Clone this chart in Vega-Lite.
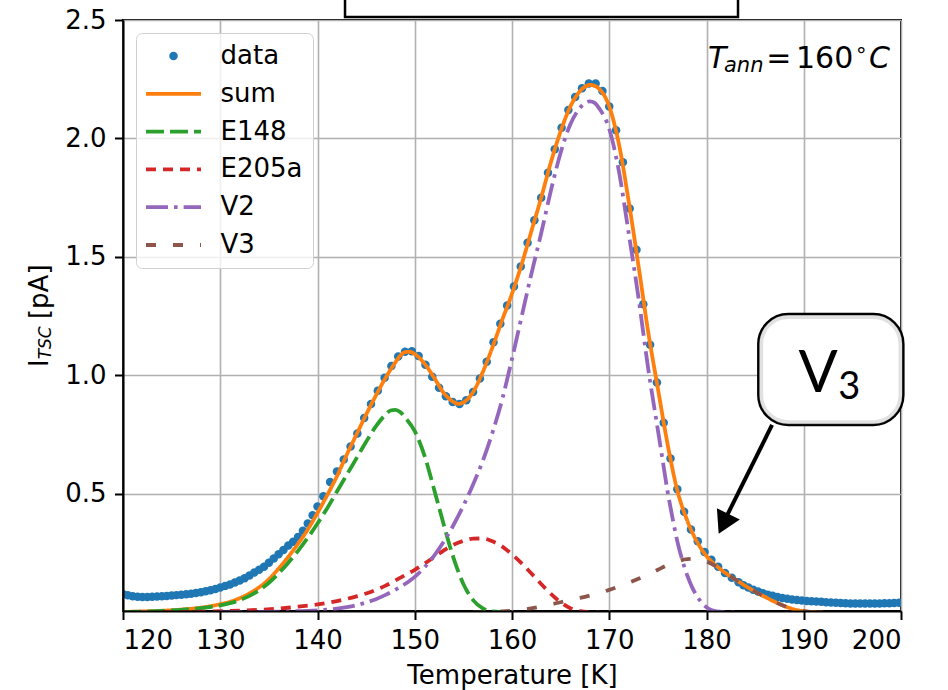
{
  "$schema": "https://vega.github.io/schema/vega-lite/v6.json",
  "width": 778,
  "height": 591,
  "autosize": {"type": "none"},
  "padding": {"left": 123, "top": 20, "right": 47, "bottom": 79},
  "background": "white",
  "config": {
    "font": "DejaVu Sans",
    "view": {"stroke": "black", "strokeWidth": 2},
    "axis": {
      "labelFont": "DejaVu Sans",
      "labelFontSize": 26,
      "labelColor": "black",
      "titleFont": "DejaVu Sans",
      "titleFontSize": 26,
      "titleFontWeight": "normal",
      "titleColor": "black",
      "tickColor": "black",
      "tickWidth": 2,
      "tickSize": 8.5,
      "domainColor": "black",
      "domainWidth": 2,
      "gridColor": "#b0b0b0",
      "gridWidth": 1.6
    }
  },
  "datasets": {
    "meas": [
      {"T": 120.0, "I": 0.078}, {"T": 120.5, "I": 0.072}, {"T": 121.0, "I": 0.068}, {"T": 121.5, "I": 0.066},
      {"T": 122.0, "I": 0.065}, {"T": 122.5, "I": 0.065}, {"T": 123.0, "I": 0.066}, {"T": 123.5, "I": 0.067},
      {"T": 124.0, "I": 0.068}, {"T": 124.5, "I": 0.069}, {"T": 125.0, "I": 0.071}, {"T": 125.5, "I": 0.073},
      {"T": 126.0, "I": 0.075}, {"T": 126.5, "I": 0.077}, {"T": 127.0, "I": 0.079}, {"T": 127.5, "I": 0.082},
      {"T": 128.0, "I": 0.085}, {"T": 128.5, "I": 0.089}, {"T": 129.0, "I": 0.094}, {"T": 129.5, "I": 0.099},
      {"T": 130.0, "I": 0.105}, {"T": 130.5, "I": 0.112}, {"T": 131.0, "I": 0.118}, {"T": 131.5, "I": 0.126},
      {"T": 132.0, "I": 0.135}, {"T": 132.5, "I": 0.144}, {"T": 133.0, "I": 0.156}, {"T": 133.5, "I": 0.168},
      {"T": 134.0, "I": 0.18}, {"T": 134.5, "I": 0.193}, {"T": 135.0, "I": 0.21}, {"T": 135.5, "I": 0.228},
      {"T": 136.0, "I": 0.245}, {"T": 136.5, "I": 0.263}, {"T": 137.0, "I": 0.282}, {"T": 137.5, "I": 0.298},
      {"T": 138.0, "I": 0.318}, {"T": 138.5, "I": 0.345}, {"T": 139.0, "I": 0.375}, {"T": 139.5, "I": 0.41},
      {"T": 140.0, "I": 0.447}, {"T": 140.6, "I": 0.49}, {"T": 141.3, "I": 0.55}, {"T": 142.0, "I": 0.595},
      {"T": 142.7, "I": 0.645}, {"T": 143.4, "I": 0.7}, {"T": 144.1, "I": 0.755}, {"T": 144.8, "I": 0.82},
      {"T": 145.5, "I": 0.88}, {"T": 146.2, "I": 0.935}, {"T": 146.9, "I": 0.99}, {"T": 147.6, "I": 1.04},
      {"T": 148.3, "I": 1.08}, {"T": 149.0, "I": 1.1}, {"T": 149.7, "I": 1.102}, {"T": 150.4, "I": 1.082},
      {"T": 151.1, "I": 1.045}, {"T": 151.8, "I": 0.995}, {"T": 152.5, "I": 0.948}, {"T": 153.2, "I": 0.912},
      {"T": 153.9, "I": 0.888}, {"T": 154.6, "I": 0.88}, {"T": 155.3, "I": 0.895}, {"T": 156.0, "I": 0.93},
      {"T": 156.7, "I": 0.987}, {"T": 157.4, "I": 1.058}, {"T": 158.1, "I": 1.14}, {"T": 158.8, "I": 1.218},
      {"T": 159.5, "I": 1.295}, {"T": 160.2, "I": 1.375}, {"T": 160.9, "I": 1.46}, {"T": 161.6, "I": 1.56},
      {"T": 162.3, "I": 1.655}, {"T": 163.0, "I": 1.75}, {"T": 163.7, "I": 1.855}, {"T": 164.4, "I": 1.955},
      {"T": 165.1, "I": 2.045}, {"T": 165.8, "I": 2.12}, {"T": 166.5, "I": 2.175}, {"T": 167.2, "I": 2.212},
      {"T": 167.9, "I": 2.232}, {"T": 168.6, "I": 2.232}, {"T": 169.3, "I": 2.2}, {"T": 170.0, "I": 2.135},
      {"T": 170.7, "I": 2.035}, {"T": 171.4, "I": 1.9}, {"T": 172.1, "I": 1.705}, {"T": 172.8, "I": 1.53},
      {"T": 173.5, "I": 1.3}, {"T": 174.2, "I": 1.13}, {"T": 174.9, "I": 0.97}, {"T": 175.6, "I": 0.8},
      {"T": 176.3, "I": 0.65}, {"T": 177.0, "I": 0.52}, {"T": 177.7, "I": 0.425}, {"T": 178.4, "I": 0.35},
      {"T": 179.1, "I": 0.3}, {"T": 179.8, "I": 0.255}, {"T": 180.5, "I": 0.222}, {"T": 181.2, "I": 0.193},
      {"T": 181.9, "I": 0.166}, {"T": 182.6, "I": 0.146}, {"T": 183.3, "I": 0.127}, {"T": 183.8, "I": 0.115},
      {"T": 184.3, "I": 0.105}, {"T": 184.8, "I": 0.096}, {"T": 185.3, "I": 0.088}, {"T": 185.8, "I": 0.081},
      {"T": 186.3, "I": 0.075}, {"T": 186.8, "I": 0.07}, {"T": 187.3, "I": 0.065}, {"T": 187.8, "I": 0.061},
      {"T": 188.3, "I": 0.058}, {"T": 188.8, "I": 0.055}, {"T": 189.3, "I": 0.052}, {"T": 189.8, "I": 0.05},
      {"T": 190.3, "I": 0.048}, {"T": 190.8, "I": 0.047}, {"T": 191.3, "I": 0.046}, {"T": 191.8, "I": 0.045},
      {"T": 192.3, "I": 0.043}, {"T": 192.8, "I": 0.042}, {"T": 193.3, "I": 0.041}, {"T": 193.8, "I": 0.04},
      {"T": 194.3, "I": 0.039}, {"T": 194.8, "I": 0.038}, {"T": 195.3, "I": 0.038}, {"T": 195.8, "I": 0.038},
      {"T": 196.3, "I": 0.038}, {"T": 196.8, "I": 0.038}, {"T": 197.3, "I": 0.038}, {"T": 197.8, "I": 0.038},
      {"T": 198.3, "I": 0.039}, {"T": 198.8, "I": 0.039}, {"T": 199.3, "I": 0.04}, {"T": 199.8, "I": 0.041}
    ],
    "fit": [
      {"series": "sum", "T": 120, "I": 0.002}, {"series": "sum", "T": 122, "I": 0.004}, {"series": "sum", "T": 124, "I": 0.007},
      {"series": "sum", "T": 126, "I": 0.012}, {"series": "sum", "T": 128, "I": 0.02}, {"series": "sum", "T": 130, "I": 0.035},
      {"series": "sum", "T": 131, "I": 0.045}, {"series": "sum", "T": 132, "I": 0.06}, {"series": "sum", "T": 133, "I": 0.08},
      {"series": "sum", "T": 134, "I": 0.106}, {"series": "sum", "T": 135, "I": 0.14}, {"series": "sum", "T": 136, "I": 0.185},
      {"series": "sum", "T": 137, "I": 0.235}, {"series": "sum", "T": 138, "I": 0.29}, {"series": "sum", "T": 139, "I": 0.35},
      {"series": "sum", "T": 140, "I": 0.42}, {"series": "sum", "T": 141, "I": 0.495}, {"series": "sum", "T": 142, "I": 0.575},
      {"series": "sum", "T": 143, "I": 0.665}, {"series": "sum", "T": 144, "I": 0.75}, {"series": "sum", "T": 145, "I": 0.835},
      {"series": "sum", "T": 146, "I": 0.915}, {"series": "sum", "T": 147, "I": 0.99}, {"series": "sum", "T": 148, "I": 1.055},
      {"series": "sum", "T": 148.5, "I": 1.083}, {"series": "sum", "T": 149, "I": 1.098}, {"series": "sum", "T": 149.5, "I": 1.1},
      {"series": "sum", "T": 150, "I": 1.09}, {"series": "sum", "T": 151, "I": 1.05}, {"series": "sum", "T": 152, "I": 0.99},
      {"series": "sum", "T": 153, "I": 0.925}, {"series": "sum", "T": 154, "I": 0.888}, {"series": "sum", "T": 154.5, "I": 0.88},
      {"series": "sum", "T": 155, "I": 0.886}, {"series": "sum", "T": 156, "I": 0.93}, {"series": "sum", "T": 157, "I": 1.015},
      {"series": "sum", "T": 158, "I": 1.12}, {"series": "sum", "T": 159, "I": 1.235}, {"series": "sum", "T": 160, "I": 1.345},
      {"series": "sum", "T": 161, "I": 1.47}, {"series": "sum", "T": 162, "I": 1.61}, {"series": "sum", "T": 163, "I": 1.75},
      {"series": "sum", "T": 164, "I": 1.9}, {"series": "sum", "T": 165, "I": 2.03}, {"series": "sum", "T": 166, "I": 2.135},
      {"series": "sum", "T": 167, "I": 2.2}, {"series": "sum", "T": 167.5, "I": 2.218}, {"series": "sum", "T": 168, "I": 2.226},
      {"series": "sum", "T": 168.5, "I": 2.222}, {"series": "sum", "T": 169, "I": 2.208}, {"series": "sum", "T": 170, "I": 2.135},
      {"series": "sum", "T": 171, "I": 1.975}, {"series": "sum", "T": 172, "I": 1.735}, {"series": "sum", "T": 173, "I": 1.465},
      {"series": "sum", "T": 174, "I": 1.185}, {"series": "sum", "T": 175, "I": 0.945}, {"series": "sum", "T": 176, "I": 0.71},
      {"series": "sum", "T": 177, "I": 0.515}, {"series": "sum", "T": 178, "I": 0.39}, {"series": "sum", "T": 179, "I": 0.3},
      {"series": "sum", "T": 180, "I": 0.238}, {"series": "sum", "T": 181, "I": 0.197}, {"series": "sum", "T": 182, "I": 0.165},
      {"series": "sum", "T": 183, "I": 0.138}, {"series": "sum", "T": 184, "I": 0.112}, {"series": "sum", "T": 185, "I": 0.088},
      {"series": "sum", "T": 186, "I": 0.066}, {"series": "sum", "T": 187, "I": 0.045}, {"series": "sum", "T": 188, "I": 0.027},
      {"series": "sum", "T": 189, "I": 0.013}, {"series": "sum", "T": 190, "I": 0.005}, {"series": "sum", "T": 191, "I": 0.001},
      {"series": "sum", "T": 192, "I": 0.0},

      {"series": "E148", "T": 120, "I": 0.001}, {"series": "E148", "T": 122, "I": 0.003}, {"series": "E148", "T": 124, "I": 0.006},
      {"series": "E148", "T": 126, "I": 0.011}, {"series": "E148", "T": 128, "I": 0.018}, {"series": "E148", "T": 130, "I": 0.03},
      {"series": "E148", "T": 131, "I": 0.039}, {"series": "E148", "T": 132, "I": 0.052}, {"series": "E148", "T": 133, "I": 0.07},
      {"series": "E148", "T": 134, "I": 0.094}, {"series": "E148", "T": 135, "I": 0.125}, {"series": "E148", "T": 136, "I": 0.165},
      {"series": "E148", "T": 137, "I": 0.21}, {"series": "E148", "T": 138, "I": 0.26}, {"series": "E148", "T": 139, "I": 0.315},
      {"series": "E148", "T": 140, "I": 0.375}, {"series": "E148", "T": 141, "I": 0.44}, {"series": "E148", "T": 142, "I": 0.51},
      {"series": "E148", "T": 143, "I": 0.58}, {"series": "E148", "T": 144, "I": 0.65}, {"series": "E148", "T": 145, "I": 0.72},
      {"series": "E148", "T": 146, "I": 0.785}, {"series": "E148", "T": 147, "I": 0.835}, {"series": "E148", "T": 147.5, "I": 0.852},
      {"series": "E148", "T": 148, "I": 0.855}, {"series": "E148", "T": 148.5, "I": 0.846}, {"series": "E148", "T": 149, "I": 0.823},
      {"series": "E148", "T": 150, "I": 0.765}, {"series": "E148", "T": 151, "I": 0.662}, {"series": "E148", "T": 152, "I": 0.518},
      {"series": "E148", "T": 153, "I": 0.368}, {"series": "E148", "T": 154, "I": 0.228}, {"series": "E148", "T": 155, "I": 0.12},
      {"series": "E148", "T": 156, "I": 0.052}, {"series": "E148", "T": 157, "I": 0.017}, {"series": "E148", "T": 158, "I": 0.004},
      {"series": "E148", "T": 159, "I": 0.001}, {"series": "E148", "T": 160, "I": 0.0},

      {"series": "E205a", "T": 124, "I": 0.001}, {"series": "E205a", "T": 128, "I": 0.003}, {"series": "E205a", "T": 131, "I": 0.006},
      {"series": "E205a", "T": 134, "I": 0.011}, {"series": "E205a", "T": 136, "I": 0.016}, {"series": "E205a", "T": 138, "I": 0.024},
      {"series": "E205a", "T": 140, "I": 0.034}, {"series": "E205a", "T": 142, "I": 0.048}, {"series": "E205a", "T": 144, "I": 0.068},
      {"series": "E205a", "T": 145, "I": 0.08}, {"series": "E205a", "T": 146, "I": 0.095}, {"series": "E205a", "T": 147, "I": 0.113},
      {"series": "E205a", "T": 148, "I": 0.135}, {"series": "E205a", "T": 149, "I": 0.157}, {"series": "E205a", "T": 150, "I": 0.18},
      {"series": "E205a", "T": 151, "I": 0.206}, {"series": "E205a", "T": 152, "I": 0.234}, {"series": "E205a", "T": 153, "I": 0.262},
      {"series": "E205a", "T": 154, "I": 0.286}, {"series": "E205a", "T": 155, "I": 0.302}, {"series": "E205a", "T": 156, "I": 0.311},
      {"series": "E205a", "T": 157, "I": 0.312}, {"series": "E205a", "T": 158, "I": 0.3}, {"series": "E205a", "T": 159, "I": 0.278},
      {"series": "E205a", "T": 160, "I": 0.245}, {"series": "E205a", "T": 161, "I": 0.207}, {"series": "E205a", "T": 162, "I": 0.164},
      {"series": "E205a", "T": 163, "I": 0.12}, {"series": "E205a", "T": 164, "I": 0.078}, {"series": "E205a", "T": 165, "I": 0.043},
      {"series": "E205a", "T": 166, "I": 0.018}, {"series": "E205a", "T": 167, "I": 0.005}, {"series": "E205a", "T": 168, "I": 0.001},
      {"series": "E205a", "T": 169, "I": 0.0},

      {"series": "V2", "T": 130, "I": 0.001}, {"series": "V2", "T": 134, "I": 0.002}, {"series": "V2", "T": 137, "I": 0.004},
      {"series": "V2", "T": 140, "I": 0.009}, {"series": "V2", "T": 142, "I": 0.016}, {"series": "V2", "T": 143, "I": 0.022},
      {"series": "V2", "T": 144, "I": 0.03}, {"series": "V2", "T": 145, "I": 0.042}, {"series": "V2", "T": 146, "I": 0.056},
      {"series": "V2", "T": 147, "I": 0.074}, {"series": "V2", "T": 148, "I": 0.095}, {"series": "V2", "T": 149, "I": 0.12},
      {"series": "V2", "T": 150, "I": 0.15}, {"series": "V2", "T": 151, "I": 0.19}, {"series": "V2", "T": 152, "I": 0.24},
      {"series": "V2", "T": 153, "I": 0.3}, {"series": "V2", "T": 154, "I": 0.37}, {"series": "V2", "T": 155, "I": 0.45},
      {"series": "V2", "T": 156, "I": 0.54}, {"series": "V2", "T": 157, "I": 0.64}, {"series": "V2", "T": 158, "I": 0.76},
      {"series": "V2", "T": 159, "I": 0.9}, {"series": "V2", "T": 160, "I": 1.07}, {"series": "V2", "T": 161, "I": 1.25},
      {"series": "V2", "T": 162, "I": 1.43}, {"series": "V2", "T": 163, "I": 1.6}, {"series": "V2", "T": 164, "I": 1.78},
      {"series": "V2", "T": 165, "I": 1.94}, {"series": "V2", "T": 166, "I": 2.06}, {"series": "V2", "T": 167, "I": 2.13},
      {"series": "V2", "T": 167.5, "I": 2.15}, {"series": "V2", "T": 168, "I": 2.157}, {"series": "V2", "T": 168.5, "I": 2.15},
      {"series": "V2", "T": 169, "I": 2.125}, {"series": "V2", "T": 170, "I": 2.04}, {"series": "V2", "T": 171, "I": 1.86},
      {"series": "V2", "T": 172, "I": 1.6}, {"series": "V2", "T": 173, "I": 1.33}, {"series": "V2", "T": 174, "I": 1.03},
      {"series": "V2", "T": 175, "I": 0.77}, {"series": "V2", "T": 175.5, "I": 0.64}, {"series": "V2", "T": 176, "I": 0.51},
      {"series": "V2", "T": 176.5, "I": 0.4}, {"series": "V2", "T": 177, "I": 0.3}, {"series": "V2", "T": 177.5, "I": 0.222},
      {"series": "V2", "T": 178, "I": 0.158}, {"series": "V2", "T": 178.5, "I": 0.108}, {"series": "V2", "T": 179, "I": 0.07},
      {"series": "V2", "T": 179.5, "I": 0.042}, {"series": "V2", "T": 180, "I": 0.022}, {"series": "V2", "T": 180.5, "I": 0.01},
      {"series": "V2", "T": 181, "I": 0.004}, {"series": "V2", "T": 182, "I": 0.001}, {"series": "V2", "T": 183, "I": 0.0},

      {"series": "V3", "T": 156, "I": 0.0}, {"series": "V3", "T": 157, "I": 0.001}, {"series": "V3", "T": 158, "I": 0.002},
      {"series": "V3", "T": 159, "I": 0.004}, {"series": "V3", "T": 160, "I": 0.007}, {"series": "V3", "T": 161, "I": 0.011},
      {"series": "V3", "T": 162, "I": 0.017}, {"series": "V3", "T": 163, "I": 0.025}, {"series": "V3", "T": 164, "I": 0.034},
      {"series": "V3", "T": 165, "I": 0.043}, {"series": "V3", "T": 166, "I": 0.052}, {"series": "V3", "T": 167, "I": 0.061},
      {"series": "V3", "T": 168, "I": 0.071}, {"series": "V3", "T": 169, "I": 0.082}, {"series": "V3", "T": 170, "I": 0.095},
      {"series": "V3", "T": 171, "I": 0.11}, {"series": "V3", "T": 172, "I": 0.125}, {"series": "V3", "T": 173, "I": 0.142},
      {"series": "V3", "T": 174, "I": 0.16}, {"series": "V3", "T": 175, "I": 0.18}, {"series": "V3", "T": 176, "I": 0.2},
      {"series": "V3", "T": 177, "I": 0.215}, {"series": "V3", "T": 178, "I": 0.225}, {"series": "V3", "T": 179, "I": 0.226},
      {"series": "V3", "T": 180, "I": 0.215}, {"series": "V3", "T": 181, "I": 0.194}, {"series": "V3", "T": 182, "I": 0.165},
      {"series": "V3", "T": 183, "I": 0.138}, {"series": "V3", "T": 184, "I": 0.112}, {"series": "V3", "T": 185, "I": 0.088},
      {"series": "V3", "T": 186, "I": 0.066}, {"series": "V3", "T": 187, "I": 0.045}, {"series": "V3", "T": 188, "I": 0.027},
      {"series": "V3", "T": 189, "I": 0.013}, {"series": "V3", "T": 190, "I": 0.005}, {"series": "V3", "T": 191, "I": 0.001},
      {"series": "V3", "T": 192, "I": 0.0}
    ]
  },
  "layer": [
    {
      "data": {"name": "meas"},
      "mark": {"type": "point", "filled": true, "size": 72, "opacity": 1, "color": "#1f77b4", "clip": true},
      "encoding": {
        "x": {"field": "T", "type": "quantitative",
              "scale": {"domain": [120, 200], "nice": false, "zero": false},
              "axis": {"orient": "bottom", "grid": true, "domain": false, "ticks": false, "labels": false, "title": null,
                       "values": [120, 130, 140, 150, 160, 170, 180, 190, 200], "zindex": 0}},
        "y": {"field": "I", "type": "quantitative",
              "scale": {"domain": [0.006, 2.5], "nice": false, "zero": false},
              "axis": {"orient": "left", "grid": true, "domain": false, "ticks": false, "labels": false, "title": null,
                       "values": [0.5, 1.0, 1.5, 2.0, 2.5], "zindex": 0}}
      }
    },
    {
      "data": {"name": "fit"},
      "transform": [{"filter": "datum.series === 'sum'"}],
      "mark": {"type": "line", "strokeWidth": 3.8, "interpolate": "monotone", "clip": true},
      "encoding": {
        "x": {"field": "T", "type": "quantitative",
              "scale": {"domain": [120, 200], "nice": false, "zero": false},
              "axis": {"orient": "bottom", "grid": false, "values": [120, 130, 140, 150, 160, 170, 180, 190, 200],
                       "format": "d", "labelPadding": 8, "title": "Temperature [K]", "titlePadding": 8.5, "zindex": 1}},
        "y": {"field": "I", "type": "quantitative",
              "scale": {"domain": [0.006, 2.5], "nice": false, "zero": false},
              "axis": {"orient": "left", "grid": false, "values": [0.5, 1.0, 1.5, 2.0, 2.5],
                       "format": ".1f", "labelPadding": 8.5, "title": null, "zindex": 1}},
        "color": {"field": "series", "type": "nominal",
                  "scale": {"domain": ["data", "sum", "E148", "E205a", "V2", "V3"],
                            "range": ["#1f77b4", "#ff7f0e", "#2ca02c", "#d62728", "#9467bd", "#8c564b"]},
                  "legend": {
                    "title": null, "orient": "top-left", "offset": 13,
                    "labelFont": "DejaVu Sans", "labelFontSize": 26, "labelColor": "black", "labelOffset": 34,
                    "symbolType": "stroke", "symbolSize": 3025, "symbolStrokeWidth": 3.8, "symbolOffset": 14.5,
                    "rowPadding": 11.8, "padding": 10,
                    "fillColor": "rgba(255,255,255,0.8)", "strokeColor": "#d0d0d0", "cornerRadius": 6,
                    "encode": {
                      "symbols": {"update": {
                        "shape": {"signal": "datum.value === 'data' ? 'circle' : 'stroke'"},
                        "size": {"signal": "datum.value === 'data' ? 72 : 3025"},
                        "fill": {"signal": "datum.value === 'data' ? '#1f77b4' : 'transparent'"},
                        "stroke": {"scale": "color", "field": "value"},
                        "strokeWidth": {"signal": "datum.value === 'data' ? 0 : 3.8"},
                        "strokeDash": {"scale": "strokeDash", "field": "value"},
                        "opacity": {"value": 1}
                      }}
                    }
                  }},
        "strokeDash": {"field": "series", "type": "nominal",
                       "scale": {"domain": ["data", "sum", "E148", "E205a", "V2", "V3"],
                                 "range": [[1, 0], [1, 0], [18, 6], [10, 7], [22, 6, 3.6, 6], [10, 17]]},
                       "legend": null}
      }
    },
    {
      "data": {"name": "fit"},
      "transform": [{"filter": "datum.series === 'E148'"}],
      "mark": {"type": "line", "strokeWidth": 3.8, "interpolate": "monotone", "clip": true},
      "encoding": {
        "x": {"field": "T", "type": "quantitative", "scale": {"domain": [120, 200], "nice": false, "zero": false}, "axis": null},
        "y": {"field": "I", "type": "quantitative", "scale": {"domain": [0.006, 2.5], "nice": false, "zero": false}, "axis": null},
        "color": {"field": "series", "type": "nominal", "scale": {"domain": ["data", "sum", "E148", "E205a", "V2", "V3"]}},
        "strokeDash": {"field": "series", "type": "nominal", "scale": {"domain": ["data", "sum", "E148", "E205a", "V2", "V3"]}, "legend": null}
      }
    },
    {
      "data": {"name": "fit"},
      "transform": [{"filter": "datum.series === 'E205a'"}],
      "mark": {"type": "line", "strokeWidth": 3.8, "interpolate": "monotone", "clip": true},
      "encoding": {
        "x": {"field": "T", "type": "quantitative", "scale": {"domain": [120, 200], "nice": false, "zero": false}, "axis": null},
        "y": {"field": "I", "type": "quantitative", "scale": {"domain": [0.006, 2.5], "nice": false, "zero": false}, "axis": null},
        "color": {"field": "series", "type": "nominal", "scale": {"domain": ["data", "sum", "E148", "E205a", "V2", "V3"]}},
        "strokeDash": {"field": "series", "type": "nominal", "scale": {"domain": ["data", "sum", "E148", "E205a", "V2", "V3"]}, "legend": null}
      }
    },
    {
      "data": {"name": "fit"},
      "transform": [{"filter": "datum.series === 'V2'"}],
      "mark": {"type": "line", "strokeWidth": 3.8, "interpolate": "monotone", "clip": true},
      "encoding": {
        "x": {"field": "T", "type": "quantitative", "scale": {"domain": [120, 200], "nice": false, "zero": false}, "axis": null},
        "y": {"field": "I", "type": "quantitative", "scale": {"domain": [0.006, 2.5], "nice": false, "zero": false}, "axis": null},
        "color": {"field": "series", "type": "nominal", "scale": {"domain": ["data", "sum", "E148", "E205a", "V2", "V3"]}},
        "strokeDash": {"field": "series", "type": "nominal", "scale": {"domain": ["data", "sum", "E148", "E205a", "V2", "V3"]}, "legend": null}
      }
    },
    {
      "data": {"name": "fit"},
      "transform": [{"filter": "datum.series === 'V3'"}],
      "mark": {"type": "line", "strokeWidth": 3.8, "interpolate": "monotone", "clip": true},
      "encoding": {
        "x": {"field": "T", "type": "quantitative", "scale": {"domain": [120, 200], "nice": false, "zero": false}, "axis": null},
        "y": {"field": "I", "type": "quantitative", "scale": {"domain": [0.006, 2.5], "nice": false, "zero": false}, "axis": null},
        "color": {"field": "series", "type": "nominal", "scale": {"domain": ["data", "sum", "E148", "E205a", "V2", "V3"]}},
        "strokeDash": {"field": "series", "type": "nominal", "scale": {"domain": ["data", "sum", "E148", "E205a", "V2", "V3"]}, "legend": null}
      }
    },
    {
      "data": {"values": [{}]},
      "mark": {"type": "rect", "fill": "white", "stroke": "black", "strokeWidth": 2.5, "clip": false},
      "encoding": {
        "x": {"datum": 142.83, "axis": null}, "x2": {"datum": 183.24},
        "y": {"datum": 2.513, "axis": null}, "y2": {"datum": 2.8}
      }
    },
    {
      "data": {"values": [{}]},
      "mark": {"type": "rect", "fill": "white", "stroke": "black", "strokeWidth": 2.5, "cornerRadius": 30, "clip": false},
      "encoding": {
        "x": {"datum": 185.33, "axis": null}, "x2": {"datum": 200.24},
        "y": {"datum": 1.259, "axis": null}, "y2": {"datum": 0.791}
      }
    },
    {
      "data": {"values": [{}]},
      "mark": {"type": "rect", "fill": "transparent", "stroke": "#9a9a9a", "strokeOpacity": 0.3, "strokeWidth": 4, "cornerRadius": 27, "clip": false},
      "encoding": {
        "x": {"datum": 185.62, "axis": null}, "x2": {"datum": 199.95},
        "y": {"datum": 1.247, "axis": null}, "y2": {"datum": 0.803}
      }
    },
    {
      "data": {"values": [{}]},
      "mark": {"type": "text", "text": "V", "font": "Lato", "fontSize": 58, "align": "left", "baseline": "alphabetic", "color": "black", "clip": false},
      "encoding": {"x": {"datum": 189.45, "axis": null}, "y": {"datum": 0.931, "axis": null}}
    },
    {
      "data": {"values": [{}]},
      "mark": {"type": "text", "text": "3", "font": "Lato", "fontSize": 38, "align": "left", "baseline": "alphabetic", "color": "black", "clip": false},
      "encoding": {"x": {"datum": 193.55, "axis": null}, "y": {"datum": 0.901, "axis": null}}
    },
    {
      "data": {"values": [{}]},
      "mark": {"type": "rule", "stroke": "black", "strokeWidth": 4, "clip": false},
      "encoding": {
        "x": {"datum": 186.74, "axis": null}, "y": {"datum": 0.791, "axis": null},
        "x2": {"datum": 182.0}, "y2": {"datum": 0.4}
      }
    },
    {
      "data": {"values": [{}]},
      "mark": {"type": "point", "shape": "triangle-up", "filled": true, "color": "black", "opacity": 1, "size": 650, "angle": 206, "clip": false},
      "encoding": {"x": {"datum": 181.75, "axis": null}, "y": {"datum": 0.374, "axis": null}}
    },
    {
      "data": {"values": [{}]},
      "mark": {"type": "text", "text": "T", "fontSize": 30, "fontStyle": "italic", "align": "left", "baseline": "alphabetic", "color": "black"},
      "encoding": {"x": {"datum": 180.15, "axis": null}, "y": {"datum": 2.297, "axis": null}}
    },
    {
      "data": {"values": [{}]},
      "mark": {"type": "text", "text": "ann", "fontSize": 21, "fontStyle": "italic", "align": "left", "baseline": "alphabetic", "color": "black"},
      "encoding": {"x": {"datum": 181.8, "axis": null}, "y": {"datum": 2.282, "axis": null}}
    },
    {
      "data": {"values": [{}]},
      "mark": {"type": "text", "text": "=", "fontSize": 30, "align": "left", "baseline": "alphabetic", "color": "black"},
      "encoding": {"x": {"datum": 186.15, "axis": null}, "y": {"datum": 2.297, "axis": null}}
    },
    {
      "data": {"values": [{}]},
      "mark": {"type": "text", "text": "160", "fontSize": 30, "align": "left", "baseline": "alphabetic", "color": "black"},
      "encoding": {"x": {"datum": 189.2, "axis": null}, "y": {"datum": 2.297, "axis": null}}
    },
    {
      "data": {"values": [{}]},
      "mark": {"type": "text", "text": "°", "fontSize": 21, "align": "left", "baseline": "alphabetic", "color": "black"},
      "encoding": {"x": {"datum": 195.37, "axis": null}, "y": {"datum": 2.319, "axis": null}}
    },
    {
      "data": {"values": [{}]},
      "mark": {"type": "text", "text": "C", "fontSize": 30, "fontStyle": "italic", "align": "left", "baseline": "alphabetic", "color": "black"},
      "encoding": {"x": {"datum": 196.71, "axis": null}, "y": {"datum": 2.297, "axis": null}}
    },
    {
      "data": {"values": [{}]},
      "mark": {"type": "text", "text": "I", "fontSize": 26, "angle": 270, "align": "left", "baseline": "alphabetic", "color": "black", "clip": false},
      "encoding": {"x": {"datum": 112.32, "axis": null}, "y": {"datum": 1.036, "axis": null}}
    },
    {
      "data": {"values": [{}]},
      "mark": {"type": "text", "text": "TSC", "fontSize": 17, "fontStyle": "italic", "angle": 270, "align": "left", "baseline": "alphabetic", "color": "black", "clip": false},
      "encoding": {"x": {"datum": 112.6, "axis": null}, "y": {"datum": 1.068, "axis": null}}
    },
    {
      "data": {"values": [{}]},
      "mark": {"type": "text", "text": "[pA]", "fontSize": 26, "angle": 270, "align": "left", "baseline": "alphabetic", "color": "black", "clip": false},
      "encoding": {"x": {"datum": 112.32, "axis": null}, "y": {"datum": 1.238, "axis": null}}
    }
  ],
  "resolve": {"axis": {"x": "independent", "y": "independent"}}
}
